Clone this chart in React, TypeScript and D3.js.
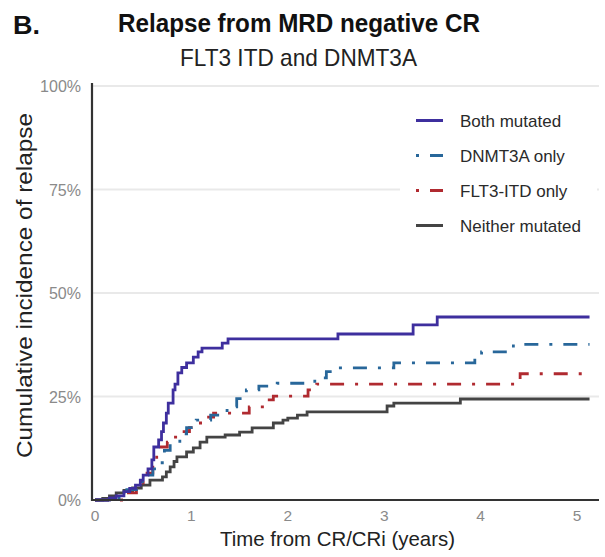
import React from "react";
import * as d3 from "d3";

// ---- Data (cumulative incidence, % ; time in years) ----
const bothTimes = [0, 0.15, 0.22, 0.3, 0.36, 0.42, 0.47, 0.5, 0.55, 0.59, 0.61, 0.66, 0.69, 0.71, 0.74, 0.76, 0.81, 0.83, 0.86, 0.9, 0.95, 1.02, 1.07, 1.11, 1.32, 1.38, 2.52, 3.3, 3.55, 5.13];
const bothValues = [0, 0.5, 1, 2, 2.8, 3.6, 4.8, 6, 7.5, 9.7, 12.8, 14.5, 16.5, 18.6, 21, 23.4, 26.6, 28, 30.7, 32, 33.1, 34.5, 35.8, 36.7, 37.9, 38.9, 40.1, 42.3, 44.2, 44.2];

const dnmtTimes = [0, 0.15, 0.25, 0.33, 0.43, 0.52, 0.6, 0.67, 0.72, 0.78, 0.88, 0.95, 1.05, 1.2, 1.37, 1.47, 1.57, 1.7, 1.89, 2.28, 2.4, 2.5, 3.1, 3.94, 4.01, 4.34, 5.13];
const dnmtValues = [0, 0.5, 1.5, 2.5, 4.4, 6, 7.5, 9, 12, 13.7, 16, 17.5, 19.3, 20.5, 22.5, 24.5, 26.6, 27.5, 28.2, 29.5, 31, 31.9, 33.1, 34.5, 35.8, 37.6, 37.6];

const flt3Times = [0, 0.3, 0.33, 0.43, 0.5, 0.54, 0.6, 0.64, 0.67, 0.75, 0.81, 0.9, 0.98, 1.06, 1.15, 1.23, 1.6, 1.78, 1.85, 2.21, 2.3, 4.41, 5.13];
const flt3Values = [0, 0.5, 1.7, 3.2, 5, 6.5, 9, 11, 12.8, 14, 15.2, 16.5, 17.5, 18.6, 20, 21, 22.5, 24.2, 25.1, 26.6, 28, 30.5, 30.5];

const neitherTimes = [0, 0.08, 0.15, 0.22, 0.3, 0.39, 0.48, 0.57, 0.7, 0.74, 0.78, 0.82, 0.85, 0.95, 1.02, 1.09, 1.16, 1.35, 1.5, 1.63, 1.85, 1.95, 2.0, 2.1, 2.2, 3.03, 3.1, 3.79, 5.13];
const neitherValues = [0, 0.4, 1, 1.7, 2.3, 2.9, 3.6, 4.8, 5.6, 6.8, 8, 9.3, 10.4, 11.6, 12.6, 14, 15.2, 15.7, 16.4, 17.4, 18.6, 19.3, 19.8, 20.5, 21.3, 22.7, 23.4, 24.4, 24.4];

const seriesNames = ["Both mutated", "DNMT3A only", "FLT3-ITD only", "Neither mutated"];
const xTicks = [0, 1, 2, 3, 4, 5];
const yTicks = [0, 25, 50, 75, 100];

const colors = ["#3E2F9E", "#28679A", "#B02A30", "#444444"];
const dashes = [null, "14,11,3,11", "14,11,3,11", null];

export default function App() {
  const W = 605, H = 557;
  const x = d3.scaleLinear().domain([0, 5]).range([95, 577]);
  const y = d3.scaleLinear().domain([0, 100]).range([500, 86]);
  const axisLeft = 92, axisRight = 599;

  const series = [
    { times: bothTimes, values: bothValues },
    { times: dnmtTimes, values: dnmtValues },
    { times: flt3Times, values: flt3Values },
    { times: neitherTimes, values: neitherValues },
  ];
  const line = d3
    .line<[number, number]>()
    .x((d) => x(d[0]))
    .y((d) => y(d[1]))
    .curve(d3.curveStepAfter);

  const drawOrder = [3, 2, 1, 0];
  const font = "Liberation Sans, Arial, Helvetica, sans-serif";

  return (
    <svg width={W} height={H} style={{ position: "absolute", left: 0, top: 0, background: "#fff" }} fontFamily={font}>
      <rect x={0} y={0} width={W} height={H} fill="#fff" />
      {/* titles */}
      <text x={13} y={34} fontSize={25} fontWeight="bold" fill="#111" textLength={27} lengthAdjust="spacingAndGlyphs">B.</text>
      <text x={118} y={32} fontSize={26} fontWeight="bold" fill="#111" textLength={362} lengthAdjust="spacingAndGlyphs">Relapse from MRD negative CR</text>
      <text x={180} y={66} fontSize={24} fill="#222" textLength={237} lengthAdjust="spacingAndGlyphs">FLT3 ITD and DNMT3A</text>

      {/* gridlines */}
      {yTicks.filter((t) => t > 0).map((t) => (
        <line key={"g" + t} x1={axisLeft} x2={axisRight} y1={y(t)} y2={y(t)} stroke="#e9e9e9" strokeWidth={1.8} />
      ))}

      {/* y tick labels */}
      {yTicks.map((t) => (
        <text key={"yt" + t} x={81} y={y(t) + 6} fontSize={16} fill="#8a8a8a" textAnchor="end">{t + "%"}</text>
      ))}
      {/* x tick labels */}
      {xTicks.map((t) => (
        <text key={"xt" + t} x={x(t)} y={521} fontSize={15.5} fill="#8a8a8a" textAnchor="middle">{t}</text>
      ))}

      {/* curves */}
      {drawOrder.map((i) => {
        const s = series[i];
        const pts: [number, number][] = s.times.map((t, k) => [t, s.values[k]]);
        return (
          <path key={"s" + i} d={line(pts) || ""} fill="none" stroke={colors[i]} strokeWidth={2.8}
            strokeDasharray={dashes[i] || undefined} />
        );
      })}

      {/* axes */}
      <line x1={axisLeft} x2={axisLeft} y1={83} y2={501} stroke="#333" strokeWidth={2.2} />
      <line x1={axisLeft - 1} x2={axisRight} y1={500} y2={500} stroke="#333" strokeWidth={2.2} />

      {/* axis titles */}
      <text x={220} y={546} fontSize={21} fill="#222" textLength={235} lengthAdjust="spacingAndGlyphs">Time from CR/CRi (years)</text>
      <text transform={`translate(32,${285.5}) rotate(-90)`} x={0} y={0} fontSize={22} fill="#222" textAnchor="middle"
        textLength={345} lengthAdjust="spacingAndGlyphs">Cumulative incidence of relapse</text>

      {/* legend */}
      <rect x={400} y={100} width={197} height={140} fill="#fff" />
      {seriesNames.map((name, i) => {
        const cy = 120.5 + i * 35;
        return (
          <g key={"l" + i}>
            <line x1={416} x2={443} y1={cy} y2={cy} stroke={colors[i]} strokeWidth={3}
              strokeDasharray={dashes[i] || undefined} strokeDashoffset={dashes[i] ? 25 : undefined} />
            <text x={460} y={cy + 6} fontSize={17} fill="#2a2a2a">{name}</text>
          </g>
        );
      })}
    </svg>
  );
}
